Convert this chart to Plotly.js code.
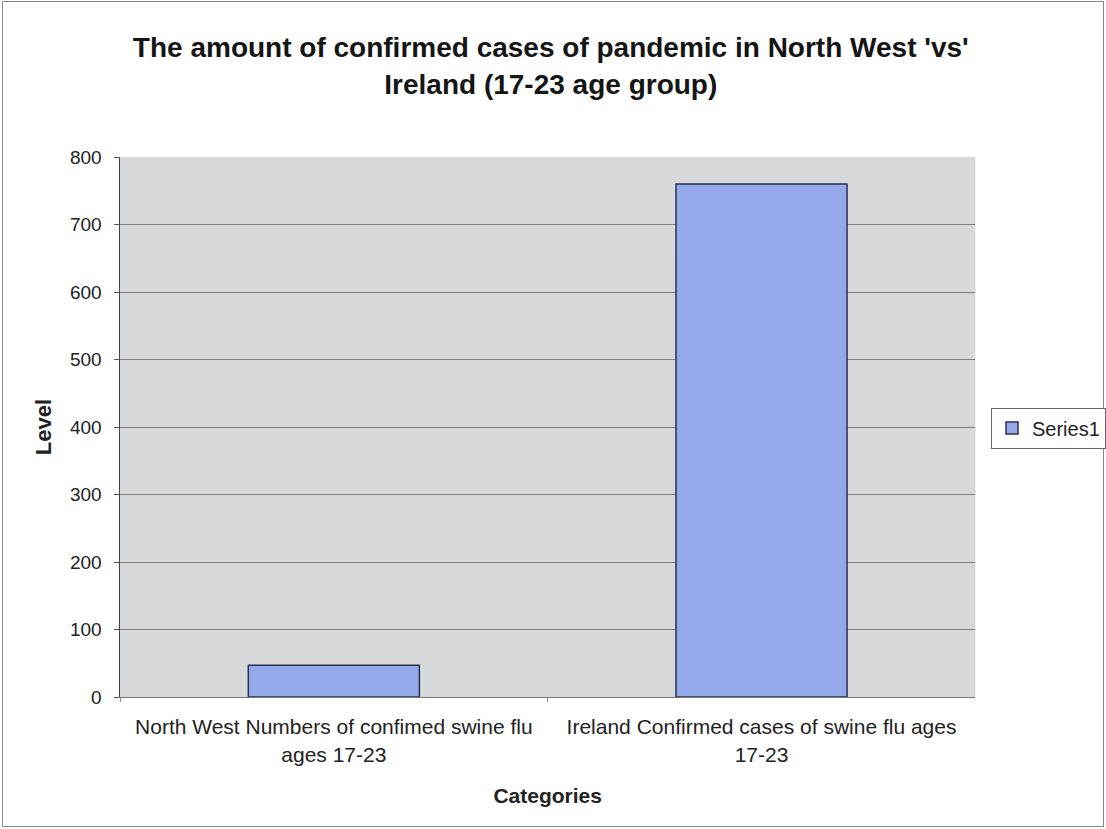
<!DOCTYPE html>
<html><head><meta charset="utf-8">
<script src="https://cdn.plot.ly/plotly-3.0.1.min.js"></script>
<style>
html,body{margin:0;padding:0;background:#fff;}
#wrap{position:absolute;left:2px;top:1px;width:1100px;height:824px;border:1px solid #8a8a8a;}
#chart{position:absolute;left:0;top:0;width:1106px;height:829px;}
</style></head>
<body>
<div id="wrap"></div>
<div id="chart"></div>
<script>
const categories = ["North West Numbers of confimed swine flu<br>ages 17-23", "Ireland Confirmed cases of swine flu ages<br>17-23"];
const series1 = [47, 760];
const seriesName = "Series1";
const yTicks = [0, 100, 200, 300, 400, 500, 600, 700, 800];

const trace = {
  type: 'bar', x: categories, y: series1, name: seriesName, showlegend: true,
  marker: {color: '#95a8e9', line: {color: '#2b2f55', width: 1.5}}
};
const layout = {
  width: 1106, height: 829,
  margin: {l: 120, r: 0, t: 157, b: 132},
  paper_bgcolor: 'rgba(0,0,0,0)', plot_bgcolor: '#d6d8da',
  font: {family: 'Liberation Sans, Arial, sans-serif', color: '#222', size: 18},
  title: {text: "<b>The amount of confirmed cases of pandemic in North West 'vs'<br>Ireland (17-23 age group)</b>",
          font: {size: 28, color: '#151515'}, x: 0.498, xref: 'container', xanchor: 'center',
          y: 0.931, yref: 'container', yanchor: 'middle'},
  bargap: 0.6,
  xaxis: {
    domain: [0, 0.8773],
    title: {text: '<b>Categories</b>', font: {size: 21}, standoff: 23},
    tickson: 'boundaries', ticks: 'outside', ticklen: 4, tickcolor: '#888',
    showline: true, linecolor: '#777', linewidth: 1, showgrid: false,
    tickfont: {size: 21}, ticklabelstandoff: 11
  },
  yaxis: {
    title: {text: '<b>Level</b>', font: {size: 22}, standoff: 12},
    range: [0, 800], tickvals: yTicks, ticks: 'outside', ticklen: 5, tickcolor: '#555',
    showline: true, linecolor: '#444', linewidth: 1.5,
    gridcolor: '#7f7f7f', gridwidth: 1, zeroline: false,
    tickfont: {size: 19}, ticklabelstandoff: 8
  },
  legend: {x: 0.8935, xanchor: 'left', y: 0.498, yanchor: 'middle',
           bordercolor: '#666', borderwidth: 1, bgcolor: '#fff', font: {size: 20},
           itemwidth: 30}
};
Plotly.newPlot('chart', [trace], layout, {displayModeBar: false, staticPlot: true});
</script>
</body></html>
